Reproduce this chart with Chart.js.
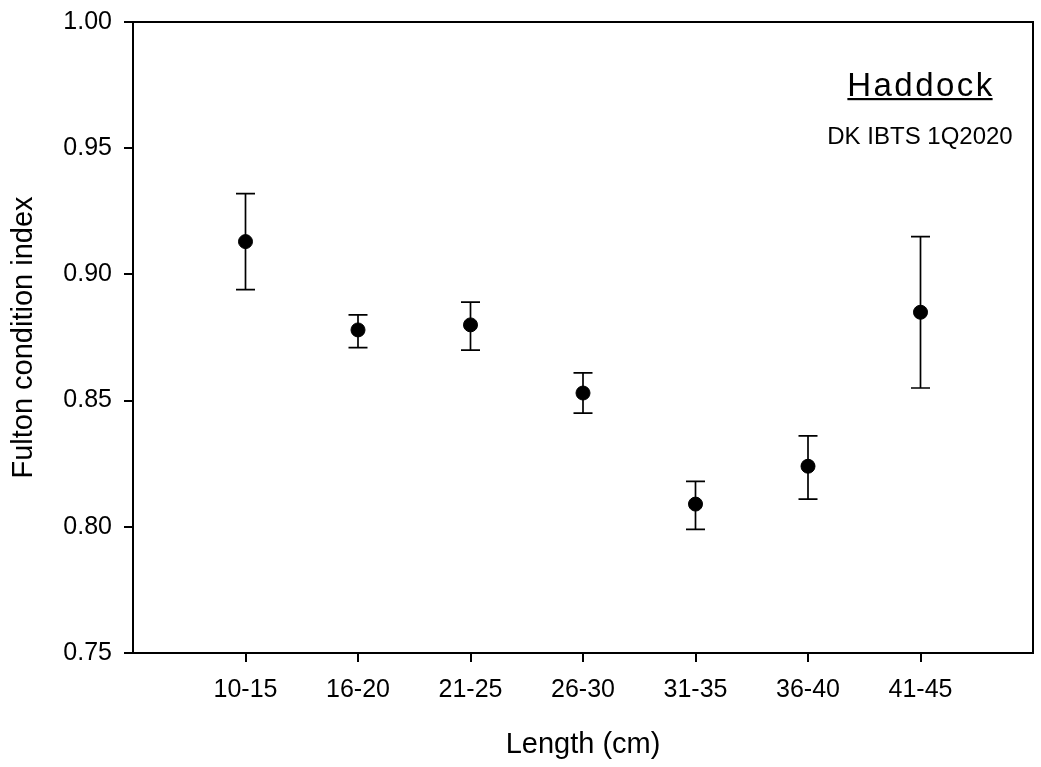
<!DOCTYPE html>
<html>
<head>
<meta charset="utf-8">
<script src="https://cdn.jsdelivr.net/npm/chart.js@4/dist/chart.umd.min.js"></script>
<style>
  body { margin: 0; background: #fff; }
  canvas { display: block; }
</style>
</head>
<body>
<canvas id="fultonChart" width="1041" height="767"></canvas>
<script>
// length classes (cm)
const lengthClasses = ['10-15', '16-20', '21-25', '26-30', '31-35', '36-40', '41-45'];
// mean Fulton condition index per class
const meanK = [0.913, 0.878, 0.880, 0.853, 0.809, 0.824, 0.885];
// error bar ends
const upperK = [0.932, 0.884, 0.889, 0.861, 0.818, 0.836, 0.915];
const lowerK = [0.894, 0.871, 0.870, 0.845, 0.799, 0.811, 0.855];
// y tick labels
const yTicks = ['0.75', '0.80', '0.85', '0.90', '0.95', '1.00'];

const fontFam = '"Liberation Sans", Arial, sans-serif';

// frame round the plot area
const framePlugin = {
  id: 'frame',
  afterDraw(chart) {
    const a = chart.chartArea;
    const ctx = chart.ctx;
    ctx.save();
    ctx.strokeStyle = '#000';
    ctx.lineWidth = 2;
    ctx.strokeRect(a.left, a.top, a.right - a.left, a.bottom - a.top);
    ctx.restore();
  }
};

// error bars, drawn before the dots
const errorBars = {
  id: 'errorBars',
  beforeDatasetsDraw(chart) {
    const ctx = chart.ctx;
    const xs = chart.scales.x, ys = chart.scales.y;
    ctx.save();
    ctx.strokeStyle = '#000';
    ctx.lineWidth = 1.7;
    const cap = 9.5;
    for (let i = 0; i < meanK.length; i++) {
      const px = xs.getPixelForValue(i + 1);
      const top = ys.getPixelForValue(upperK[i]);
      const bot = ys.getPixelForValue(lowerK[i]);
      ctx.beginPath();
      ctx.moveTo(px, top); ctx.lineTo(px, bot);
      ctx.moveTo(px - cap, top); ctx.lineTo(px + cap, top);
      ctx.moveTo(px - cap, bot); ctx.lineTo(px + cap, bot);
      ctx.stroke();
    }
    ctx.restore();
  }
};

// Haddock / survey label in the corner
const cornerText = {
  id: 'cornerText',
  afterDraw(chart) {
    const ctx = chart.ctx;
    const cx = 920;
    ctx.save();
    ctx.fillStyle = '#000';
    ctx.textAlign = 'center';
    ctx.textBaseline = 'alphabetic';
    ctx.font = '33px ' + fontFam;
    ctx.letterSpacing = '2.5px';
    ctx.fillText('Haddock', cx + 1, 96);
    const w = ctx.measureText('Haddock').width - 2.5;
    ctx.fillRect(cx - w / 2, 98, w, 2.2);
    ctx.letterSpacing = '0px';
    ctx.font = '24px ' + fontFam;
    ctx.fillText('DK IBTS 1Q2020', cx, 144);
    ctx.restore();
  }
};

const pts = meanK.map((v, i) => ({ x: i + 1, y: v }));

const ctx = document.getElementById('fultonChart').getContext('2d');
const myChart = new Chart(ctx, {
  type: 'scatter',
  data: {
    datasets: [{
      data: pts,
      backgroundColor: '#000',
      borderColor: '#000',
      pointRadius: 7,
      pointHoverRadius: 7
    }]
  },
  options: {
    responsive: false,
    animation: false,
    layout: { padding: { top: 22, right: 4, left: 0, bottom: 0 } },
    plugins: { legend: { display: false }, tooltip: { enabled: false } },
    scales: {
      x: {
        type: 'linear',
        min: 0,
        max: 8,
        afterBuildTicks: s => { s.ticks = s.ticks.filter(t => t.value >= 1 && t.value <= 7); },
        afterFit: s => { s.height = 114; s.paddingLeft = 0; s.paddingRight = 0; },
        ticks: {
          stepSize: 1,
          color: '#000',
          padding: 13,
          maxRotation: 0,
          font: { family: fontFam, size: 25 },
          callback: v => lengthClasses[v - 1] || ''
        },
        grid: { drawOnChartArea: false, drawTicks: true, tickLength: 9, color: '#000', lineWidth: 2 },
        border: { display: false },
        title: {
          display: true,
          text: 'Length (cm)',
          color: '#000',
          font: { family: fontFam, size: 29 },
          padding: { top: 0, bottom: 5 }
        }
      },
      y: {
        min: 0.75,
        max: 1.0,
        afterFit: s => { s.width = 133; s.paddingTop = 0; s.paddingBottom = 0; },
        ticks: {
          stepSize: 0.05,
          color: '#000',
          padding: 12,
          font: { family: fontFam, size: 25 },
          callback: (v, i) => yTicks[i]
        },
        grid: { drawOnChartArea: false, drawTicks: true, tickLength: 9, color: '#000', lineWidth: 2 },
        border: { display: false },
        title: {
          display: true,
          text: 'Fulton condition index',
          color: '#000',
          font: { family: fontFam, size: 29 },
          padding: { top: 7, bottom: 0 }
        }
      }
    }
  },
  plugins: [errorBars, framePlugin, cornerText]
});
</script>
</body>
</html>
